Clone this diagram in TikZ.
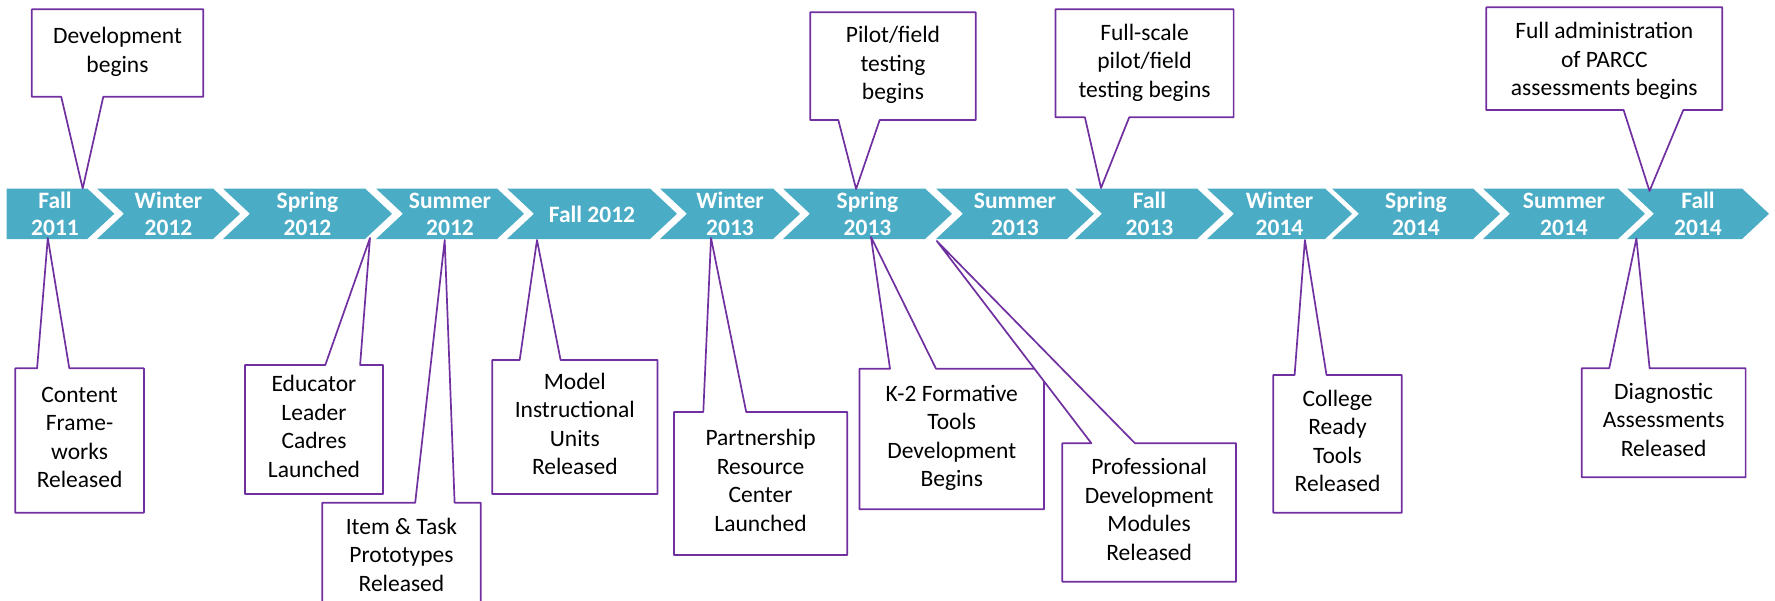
\documentclass[tikz,border=0pt]{standalone}
\usepackage{fontspec}
\setmainfont{Carlito}
\definecolor{bandc}{HTML}{4BACC6}
\definecolor{purp}{HTML}{7030A0}
\newcommand\mystrut{\rule[-0.25em]{0pt}{1em}}
\tikzset{
  callout/.style={draw=purp, fill=white, line width=1.7pt, line join=round},
  ctext/.style={font=\fontsize{23.5}{28.5}\selectfont, align=center, inner sep=0pt,
    execute at begin node=\mystrut, execute at end node=\mystrut},
  clabel/.style={font=\fontsize{23.5}{26.7}\selectfont\bfseries, text=white, align=center,
    inner sep=0pt, execute at begin node=\mystrut, execute at end node=\mystrut},
  band/.style={fill=bandc},
}
% box above band, pointer down; last argument: vertical shift of the text
\newcommand\upcall[9]{%
  \filldraw[callout] (#1,#2) -- (#3,#2) -- (#3,#4) -- (#6,#4) -- (#7) -- (#5,#4) -- (#1,#4) -- cycle;
  \node[ctext] (#8) at ({(#1+#3)/2},{(#2+#4)/2}) {#9};
}
% box below band, pointer up
\newcommand\dncall[9]{%
  \filldraw[callout] (#1,#2) -- (#5,#2) -- (#7) -- (#6,#2) -- (#3,#2) -- (#3,#4) -- (#1,#4) -- cycle;
  \node[ctext] (#8) at ({(#1+#3)/2},{(#2+#4)/2}) {#9};
}
\newcommand\chev[4]{%
  \fill[band] (#2,188.5) -- (#3,188.5) -- ({#3+27},213.75) -- (#3,239) -- (#2,239) -- ({#2+27},213.75) -- cycle;
  \node[clabel] (#1) at ({(#2+27+#3)/2},217) {#4};
}
\begin{document}
\begin{tikzpicture}[x=1pt,y=-1pt]
\useasboundingbox (0,0) rectangle (1775,600);
\clip (0,0) rectangle (1775,600);
\fill[white] (0,0) rectangle (1775,600);
% timeline band
\fill[band] (6.7,188.5) -- (87.3,188.5) -- (114.3,213.75) -- (87.3,239) -- (6.7,239) -- cycle;
\node[clabel] (c1) at (55,217) {Fall\\2011};
\chev{c2}{97}{213}{Winter\\2012}
\chev{c3}{223}{365}{Spring\\2012}
\chev{c4}{376}{497}{Summer\\2012}
\chev{c5}{507}{650}{Fall 2012}
\chev{c6}{660}{773}{Winter\\2013}
\chev{c7}{783}{925}{Spring\\2013}
\chev{c8}{936}{1067}{Summer\\2013}
\chev{c9}{1075}{1197}{Fall\\2013}
\chev{c10}{1207}{1325}{Winter\\2014}
\chev{c11}{1332}{1473}{Spring\\2014}
\chev{c12}{1483}{1618}{Summer\\2014}
\chev{c13}{1627}{1742}{Fall\\2014}
% pointer tips
\coordinate (tA) at (82.7,188.5);
\coordinate (tB) at (856.1,189);
\coordinate (tC) at (1101,188);
\coordinate (tD) at (1649.5,191);
\coordinate (tE) at (47.8,238);
\coordinate (tF) at (370,238);
\coordinate (tG) at (444.7,240);
\coordinate (tH) at (537,240);
\coordinate (tI) at (711,238);
\coordinate (tJ) at (871,237);
\coordinate (tK) at (936.8,241);
\coordinate (tL) at (1304.9,240);
\coordinate (tM) at (1636.4,238.5);
% callouts above
\upcall{31.8}{9.3}{203.2}{96.7}{61.2}{103.3}{tA}{dev}{Development\\begins}
\upcall{810.2}{12.3}{975.7}{120}{838.3}{879.7}{tB}{pilot}{Pilot/field\\testing\\begins}
\upcall{1055.5}{9.3}{1233.6}{117.3}{1084.9}{1129.2}{tC}{fullscale}{Full-scale\\pilot/field\\testing begins}
\filldraw[callout] (1486.3,7.3) -- (1722.3,7.3) -- (1722.3,110) -- (1683.3,110) -- (tD) -- (1623.6,110) -- (1486.3,110) -- cycle;
\node[ctext] (fulladmin) at (1604.3,62) {Full administration\\of PARCC\\assessments begins};
% callouts below
\dncall{15.3}{368.3}{143.9}{512.7}{37.1}{69.3}{tE}{content}{Content\\Frame-\\works\\Released}
\dncall{245}{365}{383}{494}{325.3}{360.1}{tF}{educator}{Educator\\Leader\\Cadres\\Launched}
\dncall{322.2}{502.7}{480.7}{612}{415.2}{454.6}{tG}{item}{Item \& Task\\Prototypes\\Released}
\dncall{492.2}{360}{657.4}{494}{519.7}{560.6}{tH}{model}{Model\\Instructional\\Units\\Released}
\dncall{673.9}{412}{847.2}{555}{703.3}{746.2}{tI}{partner}{Partnership\\Resource\\Center\\Launched}
\dncall{859.5}{368.7}{1044}{509.3}{890}{936}{tJ}{ktwo}{K-2 Formative\\Tools\\Development\\Begins}
\dncall{1062.3}{443.3}{1236}{581.7}{1091.4}{1135}{tK}{prof}{Professional\\Development\\Modules\\Released}
\dncall{1273.3}{375}{1401.7}{512.7}{1294.6}{1326.5}{tL}{college}{College\\Ready\\Tools\\Released}
\dncall{1581.7}{368.3}{1745.6}{477.3}{1609.2}{1649.6}{tM}{diag}{Diagnostic\\Assessments\\Released}
\end{tikzpicture}
\end{document}
